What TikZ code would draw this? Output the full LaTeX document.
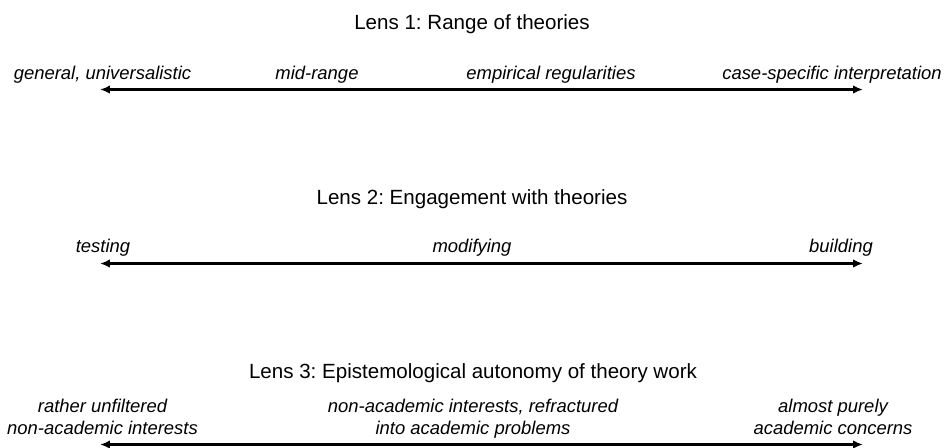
\documentclass[tikz,border=0pt]{standalone}
\usepackage{fontspec}
\setmainfont{Liberation Sans}
\frenchspacing
\usetikzlibrary{positioning,arrows.meta}

\tikzset{
	lens/.style={font=\fontsize{11.7}{14}\selectfont},
	pole/.style={font=\fontsize{10.5}{12.4}\selectfont\itshape,align=center},
	axis/.style={{Latex[length=0.2cm,width=0.17cm]}-{Latex[length=0.2cm,width=0.17cm]},line width=1.4pt}
}

\begin{document}
\begin{tikzpicture}[x=0.02cm,y=-0.02cm]
	\useasboundingbox (0,0) rectangle (948,447);

	% lens 1
	\node [lens] (title1) at (472,24.5) {Lens 1: Range of theories};
	\node [pole] (general) at (102.5,75) {general, universalistic};
	\node [pole] (midrange) at (317,75) {mid-range};
	\node [pole] (empirical) at (551,75) {empirical regularities};
	\node [pole] (case) at (832,75) {case-specific interpretation};
	\coordinate (l1a) at (100,89.5);
	\coordinate (l1b) at (863,89.5);
	\draw [axis] (l1a) -- (l1b);

	% lens 2
	\node [lens] (title2) at (472,199.5) {Lens 2: Engagement with theories};
	\node [pole] (testing) at (103,248) {testing};
	\node [pole] (modifying) at (472,248) {modifying};
	\node [pole] (building) at (841,248) {building};
	\coordinate (l2a) at (100,263.5);
	\coordinate (l2b) at (863,263.5);
	\draw [axis] (l2a) -- (l2b);

	% lens 3
	\node [lens] (title3) at (473,373) {Lens 3: Epistemological autonomy of theory work};
	\node [pole] (unfiltered) at (102.5,417) {rather unfiltered\\non-academic interests};
	\node [pole] (refractured) at (473,419) {non-academic interests, refractured\\into academic problems};
	\node [pole] (academic) at (833,417) {almost purely\\academic concerns};
	\coordinate (l3a) at (100,444.5);
	\coordinate (l3b) at (863,444.5);
	\draw [axis] (l3a) -- (l3b);
\end{tikzpicture}
\end{document}
